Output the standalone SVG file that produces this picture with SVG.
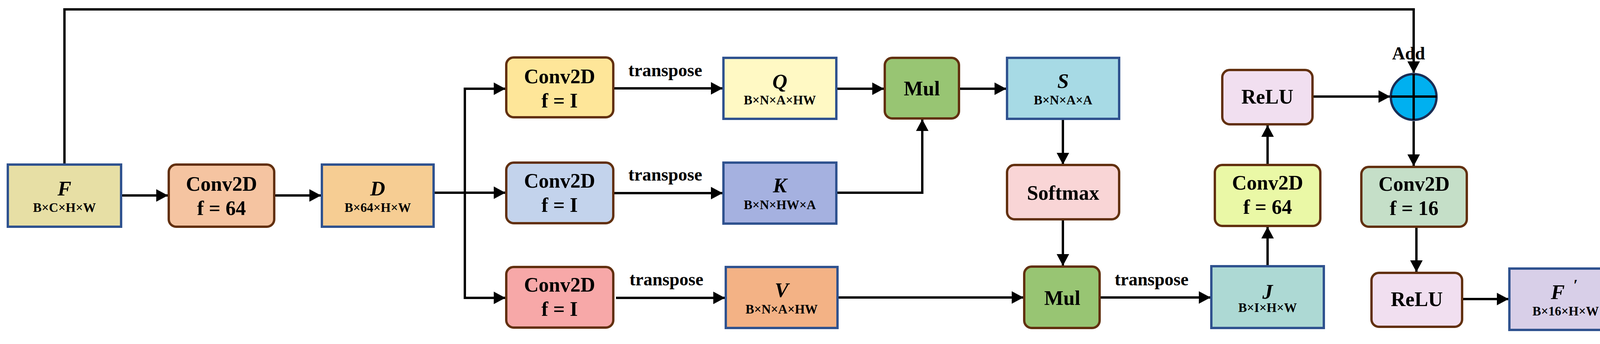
<svg xmlns="http://www.w3.org/2000/svg" width="4175" height="880" viewBox="0 0 4175 880">
<style>
.t{font-family:"Liberation Serif","Times New Roman",serif;font-weight:bold;fill:#000;text-anchor:middle}
.big{font-size:52px}
.var{font-size:53px;font-style:italic}
.dim{font-size:33px}
.lab{font-size:46px}
.sq{stroke:#2F528F;stroke-width:6}
.rd{stroke:#62300F;stroke-width:6}
.ln{fill:none;stroke:#000;stroke-width:6}
</style>
<defs>
<marker id="ah" viewBox="0 0 30 32" refX="29" refY="16" markerWidth="30" markerHeight="32" markerUnits="userSpaceOnUse" orient="auto">
<path d="M0,0 L30,16 L0,32 z" fill="#000"/>
</marker>
</defs>
<rect width="4175" height="880" fill="#fff"/>
<g id="connectors">
<path class="ln" d="M165,418 V24 H3619 V186" marker-end="url(#ah)"/>
<path class="ln" d="M313,500 H429" marker-end="url(#ah)"/>
<path class="ln" d="M705,500 H821" marker-end="url(#ah)"/>
<path class="ln" d="M1113,493 H1190"/>
<path class="ln" d="M1190,224 V765"/>
<path class="ln" d="M1187,227 H1293" marker-end="url(#ah)"/>
<path class="ln" d="M1190,493 H1293" marker-end="url(#ah)"/>
<path class="ln" d="M1187,762 H1293" marker-end="url(#ah)"/>
<path class="ln" d="M1573,226 H1849" marker-end="url(#ah)"/>
<path class="ln" d="M1573,494 H1849" marker-end="url(#ah)"/>
<path class="ln" d="M1577,762 H1855" marker-end="url(#ah)"/>
<path class="ln" d="M2144,227 H2262" marker-end="url(#ah)"/>
<path class="ln" d="M2144,493 H2361 V306" marker-end="url(#ah)"/>
<path class="ln" d="M2458,227 H2575" marker-end="url(#ah)"/>
<path class="ln" d="M2721,306 V420" marker-end="url(#ah)"/>
<path class="ln" d="M2721,564 V679" marker-end="url(#ah)"/>
<path class="ln" d="M2147,761 H2619" marker-end="url(#ah)"/>
<path class="ln" d="M2818,761 H3098" marker-end="url(#ah)"/>
<path class="ln" d="M3245,678 V581" marker-end="url(#ah)"/>
<path class="ln" d="M3245,420 V321" marker-end="url(#ah)"/>
<path class="ln" d="M3363,247 H3558" marker-end="url(#ah)"/>
<path class="ln" d="M3619,310 V424" marker-end="url(#ah)"/>
<path class="ln" d="M3626,582 V695" marker-end="url(#ah)"/>
<path class="ln" d="M3746,765 H3861" marker-end="url(#ah)"/>
<text class="t lab" x="1703" y="195">transpose</text>
<text class="t lab" x="1703" y="462">transpose</text>
<text class="t lab" x="1706" y="730">transpose</text>
<text class="t lab" x="2948" y="730">transpose</text>
</g>
<g id="F">
<rect class="sq" x="20" y="421" width="290" height="159" fill="#E7DFA5"/>
<text class="t var" x="165" y="500">F</text>
<text class="t dim" x="165" y="542">B×C×H×W</text>
</g>
<g id="conv1">
<rect class="rd" x="432" y="421" width="270" height="159" rx="19" fill="#F5C4A1"/>
<text class="t big" x="567" y="488">Conv2D</text>
<text class="t big" x="567" y="550">f = 64</text>
</g>
<g id="D">
<rect class="sq" x="824" y="421" width="286" height="159" fill="#F6CD93"/>
<text class="t var" x="967" y="500">D</text>
<text class="t dim" x="967" y="542">B×64×H×W</text>
</g>
<g id="convQ">
<rect class="rd" x="1296" y="147" width="274" height="153" rx="19" fill="#FEE699"/>
<text class="t big" x="1432.5" y="213">Conv2D</text>
<text class="t big" x="1432.5" y="275">f = I</text>
</g>
<g id="Q">
<rect class="sq" x="1852" y="148" width="289" height="156" fill="#FFF9C4"/>
<text class="t var" x="1996.5" y="226">Q</text>
<text class="t dim" x="1996.5" y="267">B×N×A×HW</text>
</g>
<g id="convK">
<rect class="rd" x="1296" y="416" width="274" height="155" rx="19" fill="#C3D3EC"/>
<text class="t big" x="1432.5" y="480">Conv2D</text>
<text class="t big" x="1432.5" y="542">f = I</text>
</g>
<g id="K">
<rect class="sq" x="1852" y="416" width="289" height="156" fill="#A5B1E0"/>
<text class="t var" x="1996.5" y="492">K</text>
<text class="t dim" x="1996.5" y="535">B×N×HW×A</text>
</g>
<g id="convV">
<rect class="rd" x="1296" y="683" width="274" height="155" rx="19" fill="#F7A8A8"/>
<text class="t big" x="1432.5" y="746">Conv2D</text>
<text class="t big" x="1432.5" y="808">f = I</text>
</g>
<g id="V">
<rect class="sq" x="1858" y="683" width="286" height="156" fill="#F3B285"/>
<text class="t var" x="2001" y="760">V</text>
<text class="t dim" x="2001" y="802">B×N×A×HW</text>
</g>
<g id="mul1">
<rect class="rd" x="2265" y="148" width="190" height="155" rx="19" fill="#98C573"/>
<text class="t big" x="2360" y="244">Mul</text>
</g>
<g id="S">
<rect class="sq" x="2578" y="148" width="287" height="156" fill="#A7DAE5"/>
<text class="t var" x="2721.5" y="225">S</text>
<text class="t dim" x="2721.5" y="267">B×N×A×A</text>
</g>
<g id="softmax">
<rect class="rd" x="2578" y="422" width="287" height="139" rx="19" fill="#F9D5D6"/>
<text class="t big" x="2721.5" y="511">Softmax</text>
</g>
<g id="mul2">
<rect class="rd" x="2622" y="682" width="193" height="157" rx="19" fill="#98C573"/>
<text class="t big" x="2719.5" y="780">Mul</text>
</g>
<g id="J">
<rect class="sq" x="3101" y="681" width="288" height="158" fill="#ADD9D4"/>
<text class="t var" x="3245" y="764">J</text>
<text class="t dim" x="3245" y="798">B×I×H×W</text>
</g>
<g id="conv64b">
<rect class="rd" x="3110" y="422" width="270" height="156" rx="19" fill="#EAF8A6"/>
<text class="t big" x="3245" y="485">Conv2D</text>
<text class="t big" x="3245" y="547">f = 64</text>
</g>
<g id="relu1">
<rect class="rd" x="3129" y="179" width="231" height="139" rx="19" fill="#F1DFF0"/>
<text class="t big" x="3244.5" y="265">ReLU</text>
</g>
<g id="add">
<text class="t lab" x="3606" y="152">Add</text>
<circle cx="3619" cy="248" r="58.5" fill="#00B0F0" stroke="#1A2E55" stroke-width="6"/>
<path d="M3560,247 H3678 M3619,189 V307" stroke="#000" stroke-width="6" fill="none"/>
</g>
<g id="conv16">
<rect class="rd" x="3485" y="427" width="270" height="153" rx="19" fill="#C5DFC8"/>
<text class="t big" x="3620" y="488">Conv2D</text>
<text class="t big" x="3620" y="550">f = 16</text>
</g>
<g id="relu2">
<rect class="rd" x="3511" y="698" width="232" height="138" rx="19" fill="#F1DFF0"/>
<text class="t big" x="3627" y="783">ReLU</text>
</g>
<g id="Fout">
<rect class="sq" x="3864" y="687" width="289" height="157" fill="#D8CFE8"/>
<text class="t var" x="3988" y="765">F</text>
<text class="t var" x="4033" y="742" style="font-size:40px">′</text>
<text class="t dim" x="4008" y="807">B×16×H×W</text>
</g>
</svg>
